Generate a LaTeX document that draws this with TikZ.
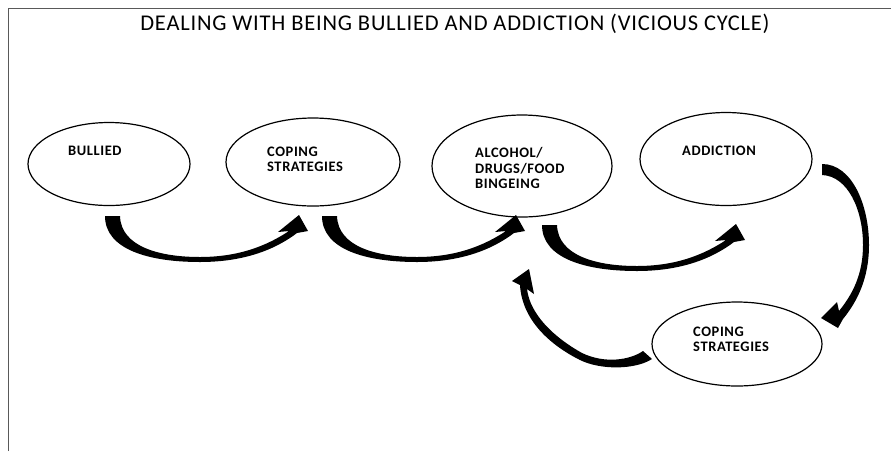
\documentclass[tikz,border=0pt]{standalone}
\usepackage{fontspec}
\setmainfont{Carlito}
\usetikzlibrary{shapes.geometric}

\tikzset{
  bubble/.style={draw, ellipse, line width=1.2pt, inner sep=0pt},
  tag/.style={anchor=base west, inner sep=0pt, align=left,
    font=\bfseries\fontsize{14.5}{15.5}\selectfont\addfontfeature{LetterSpace=4}},
  swoop/.pic={
    % tapered block arrow, drawn from the left corner of its tail
    \fill (0,0) .. controls (0,34) and (45,46) .. (95,46)
      .. controls (140,46) and (171,33) .. (192,17)
      -- (203,15) -- (194,-1) -- (173,16) -- (184,15)
      .. controls (163,29) and (135,41) .. (95,41)
      .. controls (55,41) and (16,31) .. (15,0) -- cycle;
  }
}

\begin{document}
\begin{tikzpicture}[x=1pt, y=-1pt]
    \useasboundingbox (0,0) rectangle (891,451);
    % page frame
    \draw[black!65, line width=1pt] (8,451) -- (8,8) -- (891,8);

    \node[font=\fontsize{22.5}{24}\selectfont\addfontfeature{LetterSpace=3.5}] (title) at (455,24)
      {DEALING WITH BEING BULLIED AND ADDICTION (VICIOUS CYCLE)};

    % Ellipses
    \node[bubble, minimum width=162pt, minimum height=83pt] (bullied) at (109,164) {};
    \node[bubble, minimum width=174pt, minimum height=88pt] (coping) at (313,162) {};
    \node[bubble, minimum width=180pt, minimum height=102pt] (binge) at (522,166) {};
    \node[bubble, minimum width=172pt, minimum height=93pt] (addiction) at (726,159) {};
    \node[bubble, minimum width=170pt, minimum height=84pt] (coping2) at (737,344) {};

    % Labels (base = last line)
    \node[tag] (lbullied) at (68,155.5) {BULLIED};
    \node[tag] (lcoping) at (267,171.5) {COPING\\STRATEGIES};
    \node[tag] (lbinge) at (475,188.5) {ALCOHOL/\\DRUGS/FOOD\\BINGEING};
    \node[tag] (laddiction) at (682,155.5) {ADDICTION};
    \node[tag] (lcoping2) at (693,351.5) {COPING\\STRATEGIES};

    % Arrows along the top row
    \pic at (105,216) {swoop};
    \pic at (322,216) {swoop};
    \pic at (542,225) {swoop};

    % Addiction down to the second coping
    \fill (822,164) .. controls (852,164) and (869,205) .. (869,245)
      .. controls (869,280) and (856,303) .. (843,319)
      -- (838,328) -- (821,318) -- (837,302) -- (839,311)
      .. controls (852,295) and (863,275) .. (863,245)
      .. controls (863,210) and (848,176) .. (822,175) -- cycle;

    % Second coping back to the bingeing
    \fill (652,359) .. controls (635,370) and (600,370) .. (580,360)
      .. controls (550,345) and (522,320) .. (520,285)
      -- (512,281) -- (529,269) -- (534,294) -- (527,289)
      .. controls (530,315) and (555,338) .. (582,353)
      .. controls (605,364) and (630,360) .. (643,351) -- cycle;
\end{tikzpicture}
\end{document}
